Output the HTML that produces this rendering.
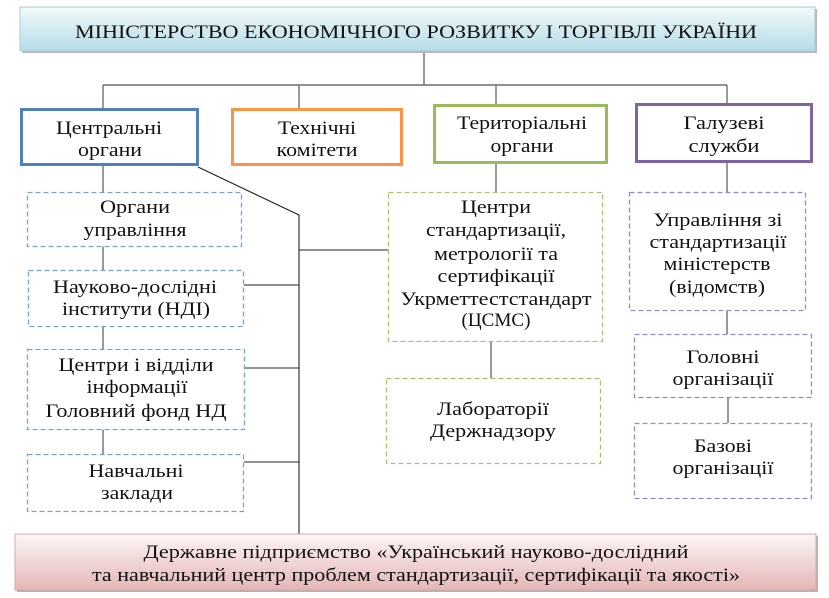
<!DOCTYPE html>
<html><head><meta charset="utf-8"><style>
html,body{margin:0;padding:0;background:#fff;}
svg{display:block;}
text{font-family:"Liberation Serif","DejaVu Serif",serif;font-size:19px;fill:#111;}
</style></head><body>
<svg width="829" height="598" viewBox="0 0 829 598" xmlns="http://www.w3.org/2000/svg">
<defs>
<linearGradient id="gt" x1="0" y1="0" x2="0" y2="1"><stop offset="0" stop-color="#f2f9fb"/><stop offset="1" stop-color="#b6dce7"/></linearGradient>
<linearGradient id="gb" x1="0" y1="0" x2="0" y2="1"><stop offset="0" stop-color="#fdf6f6"/><stop offset="1" stop-color="#e4b6b6"/></linearGradient>
</defs>

<!-- connectors -->
<g stroke="#6e6e6e" stroke-width="1.4" fill="none">
<line x1="424" y1="51" x2="424" y2="85"/>
<line x1="103" y1="85" x2="727" y2="85"/>
<line x1="103" y1="85" x2="103" y2="108"/>
<line x1="299" y1="85" x2="299" y2="108"/>
<line x1="496" y1="85" x2="496" y2="104"/>
<line x1="727" y1="85" x2="727" y2="103"/>
<line x1="103" y1="166" x2="103" y2="454"/>
<line x1="496" y1="164" x2="496" y2="192"/>
<line x1="491" y1="342" x2="491" y2="378"/>
<line x1="727" y1="163" x2="727" y2="192"/>
<line x1="727" y1="311" x2="727" y2="334"/>
<line x1="728" y1="398" x2="728" y2="423"/>
<line x1="245" y1="368" x2="299" y2="368"/>
<line x1="244" y1="462" x2="299" y2="462"/>
</g>
<g stroke="#222" stroke-width="1.1" fill="none">
<polyline points="198,167 299,215 299,534"/>
<line x1="299" y1="250" x2="388" y2="250"/>
<line x1="244" y1="285" x2="299" y2="285"/>
</g>

<!-- top box -->
<rect x="22" y="9" width="795" height="44" fill="#b9b9b9"/>
<rect x="20" y="7" width="795" height="44" fill="url(#gt)" stroke="#a8ccd8" stroke-width="1"/>
<text x="416" y="38" text-anchor="middle" textLength="682" lengthAdjust="spacingAndGlyphs">МІНІСТЕРСТВО ЕКОНОМІЧНОГО РОЗВИТКУ І ТОРГІВЛІ УКРАЇНИ</text>

<!-- level 1 boxes -->
<rect x="21.5" y="109.5" width="176" height="55" fill="#fff" stroke="#4f81bd" stroke-width="3"/>
<text x="109" y="134" text-anchor="middle" textLength="106" lengthAdjust="spacingAndGlyphs">Центральні</text>
<text x="110" y="156" text-anchor="middle" textLength="64" lengthAdjust="spacingAndGlyphs">органи</text>

<rect x="232.5" y="109.5" width="169" height="55" fill="#fff" stroke="#f79646" stroke-width="3"/>
<text x="317" y="134" text-anchor="middle" textLength="78" lengthAdjust="spacingAndGlyphs">Технічні</text>
<text x="317" y="156" text-anchor="middle" textLength="81" lengthAdjust="spacingAndGlyphs">комітети</text>

<rect x="434.5" y="105.5" width="172" height="57" fill="#fff" stroke="#9bbb59" stroke-width="3"/>
<text x="522" y="129" text-anchor="middle" textLength="130" lengthAdjust="spacingAndGlyphs">Територіальні</text>
<text x="522" y="152" text-anchor="middle" textLength="63" lengthAdjust="spacingAndGlyphs">органи</text>

<rect x="636.5" y="104.5" width="175" height="57" fill="#fff" stroke="#8064a2" stroke-width="3"/>
<text x="724" y="129" text-anchor="middle" textLength="81" lengthAdjust="spacingAndGlyphs">Галузеві</text>
<text x="724" y="152" text-anchor="middle" textLength="71" lengthAdjust="spacingAndGlyphs">служби</text>

<!-- left dashed boxes -->
<g fill="#fff" stroke="#7aa3d3" stroke-width="1.3" stroke-dasharray="5,3">
<rect x="27.5" y="192.5" width="214" height="54"/>
<rect x="28.5" y="270.5" width="215" height="56"/>
<rect x="27.5" y="349.5" width="217" height="80"/>
<rect x="27.5" y="454.5" width="216" height="57"/>
</g>
<text x="135" y="213" text-anchor="middle" textLength="70" lengthAdjust="spacingAndGlyphs">Органи</text>
<text x="135" y="236" text-anchor="middle" textLength="103" lengthAdjust="spacingAndGlyphs">управління</text>
<text x="135" y="293" text-anchor="middle" textLength="164" lengthAdjust="spacingAndGlyphs">Науково-дослідні</text>
<text x="136" y="315" text-anchor="middle" textLength="148" lengthAdjust="spacingAndGlyphs">інститути (НДІ)</text>
<text x="136" y="371" text-anchor="middle" textLength="155" lengthAdjust="spacingAndGlyphs">Центри і відділи</text>
<text x="137" y="393" text-anchor="middle" textLength="101" lengthAdjust="spacingAndGlyphs">інформації</text>
<text x="136" y="417" text-anchor="middle" textLength="181" lengthAdjust="spacingAndGlyphs">Головний фонд НД</text>
<text x="136" y="477" text-anchor="middle" textLength="95" lengthAdjust="spacingAndGlyphs">Навчальні</text>
<text x="137" y="499" text-anchor="middle" textLength="72" lengthAdjust="spacingAndGlyphs">заклади</text>

<!-- middle green dashed boxes -->
<g fill="#fff" stroke="#a9c46e" stroke-width="1.3" stroke-dasharray="5,3">
<rect x="388.5" y="192.5" width="214" height="149"/>
<rect x="386.5" y="378.5" width="214" height="85"/>
</g>
<text x="496" y="213" text-anchor="middle" textLength="70" lengthAdjust="spacingAndGlyphs">Центри</text>
<text x="496" y="236" text-anchor="middle" textLength="140" lengthAdjust="spacingAndGlyphs">стандартизації,</text>
<text x="496" y="260" text-anchor="middle" textLength="124" lengthAdjust="spacingAndGlyphs">метрології та</text>
<text x="496" y="282" text-anchor="middle" textLength="117" lengthAdjust="spacingAndGlyphs">сертифікації</text>
<text x="496" y="305" text-anchor="middle" textLength="191" lengthAdjust="spacingAndGlyphs">Укрметтестстандарт</text>
<text x="496" y="326" text-anchor="middle" textLength="69" lengthAdjust="spacingAndGlyphs">(ЦСМС)</text>
<text x="493" y="415" text-anchor="middle" textLength="112" lengthAdjust="spacingAndGlyphs">Лабораторії</text>
<text x="493" y="437" text-anchor="middle" textLength="126" lengthAdjust="spacingAndGlyphs">Держнадзору</text>

<!-- right purple dashed boxes -->
<g fill="#fff" stroke="#9c88bb" stroke-width="1.3" stroke-dasharray="5,3">
<rect x="629.5" y="192.5" width="176" height="118"/>
<rect x="634.5" y="334.5" width="177" height="63"/>
<rect x="634.5" y="423.5" width="177" height="75"/>
</g>
<text x="718" y="226" text-anchor="middle" textLength="129" lengthAdjust="spacingAndGlyphs">Управління зі</text>
<text x="718" y="248" text-anchor="middle" textLength="137" lengthAdjust="spacingAndGlyphs">стандартизації</text>
<text x="717" y="270" text-anchor="middle" textLength="107" lengthAdjust="spacingAndGlyphs">міністерств</text>
<text x="717" y="293" text-anchor="middle" textLength="96" lengthAdjust="spacingAndGlyphs">(відомств)</text>
<text x="723" y="363" text-anchor="middle" textLength="73" lengthAdjust="spacingAndGlyphs">Головні</text>
<text x="723" y="385" text-anchor="middle" textLength="101" lengthAdjust="spacingAndGlyphs">організації</text>
<text x="723" y="452" text-anchor="middle" textLength="58" lengthAdjust="spacingAndGlyphs">Базові</text>
<text x="723" y="474" text-anchor="middle" textLength="101" lengthAdjust="spacingAndGlyphs">організації</text>

<!-- bottom box -->
<rect x="17" y="536" width="801" height="56" fill="#b3b3b3"/>
<rect x="15" y="534" width="801" height="56" fill="url(#gb)" stroke="#d8a8a8" stroke-width="1"/>
<text x="416" y="558" text-anchor="middle" textLength="545" lengthAdjust="spacingAndGlyphs">Державне підприємство «Український науково-дослідний</text>
<text x="416" y="581" text-anchor="middle" textLength="648" lengthAdjust="spacingAndGlyphs">та навчальний центр проблем стандартизації, сертифікації та якості»</text>
</svg>
</body></html>
